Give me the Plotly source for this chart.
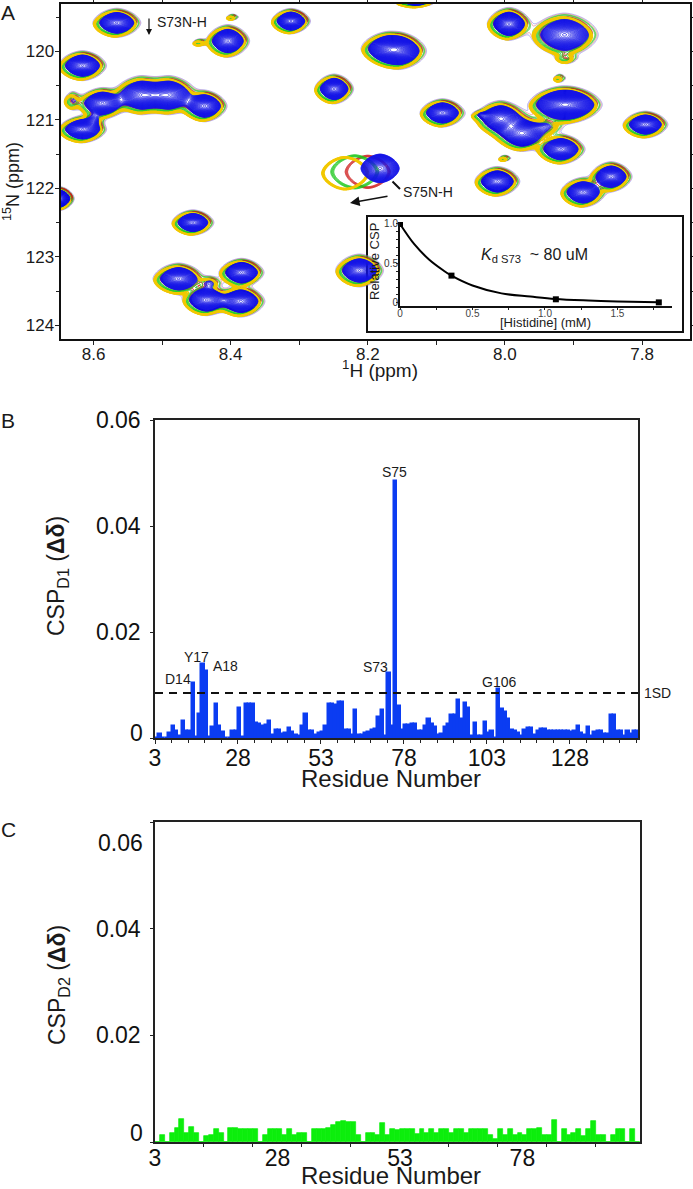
import numpy as np
import plotly.graph_objects as go

W, H = 693, 1189
def X(p): return p / W
def Y(p): return 1 - p / H

# ---- Panel A: peak table (1H ppm, 15N ppm, half width H, half width N, relative height)
peak_h  = [8.566, 8.312, 8.404, 7.994, 7.913, 8.154, 8.170, 8.616, 8.249, 8.587, 8.530, 8.490, 8.438, 8.616,
           8.091, 8.006, 7.975, 7.919, 7.905, 7.918, 7.795, 8.011, 7.845, 7.886, 8.455, 8.476, 8.384, 8.435,
           8.385, 8.212, 8.650, 8.130, 7.920, 8.397, 8.000, 7.910, 7.940, 8.630, 8.600, 8.445, 8.035, 8.430]
peak_n  = [119.585, 119.56, 119.85, 119.60, 119.76, 120.00, 119.96, 120.21, 120.55, 120.76, 120.64, 120.64, 120.80, 121.14,
           120.90, 120.98, 121.20, 120.78, 120.78, 121.43, 121.07, 121.90, 121.83, 122.06, 122.50, 123.32, 123.23, 123.63,
           123.65, 123.20, 122.15, 119.25, 120.39, 119.50, 121.56, 120.10, 121.10, 120.72, 121.00, 119.87, 120.93, 123.38]
peak_rh = [.032, .026, .029, .029, .045, .036, .036, .032, .026, .033, .038, .038, .030, .032,
           .030, .034, .036, .042, .042, .032, .030, .030, .028, .030, .028, .034, .030, .032,
           .032, .032, .020, .030, .012, .012, .012, .020, .030, .016, .016, .014, .016, .020]
peak_rn = [.195, .170, .220, .220, .290, .240, .220, .200, .200, .210, .260, .260, .210, .180,
           .190, .240, .240, .230, .230, .200, .180, .200, .200, .200, .170, .210, .190, .210,
           .210, .220, .160, .100, .080, .060, .060, .110, .150, .170, .140, .070, .080, .120]
peak_a  = [1, 1, 1, 1, 1, 1, 1, 1, 1, 1, 1, 1, 1, 1,
           1, 1, 1, 1, 1, 1, 1, 1, 1, 1, 1, 1, 1, 1,
           1, 1, 1, 1, .2, .2, .2, .2, .25, .25, .25, .2, .2, .25]

# S75 peak position and width for each titration point: blue, red, green, yellow
s75_h  = [8.182, 8.200, 8.219, 8.233]
s75_n  = [121.71, 121.76, 121.76, 121.78]
s75_rh = [.036, .038, .038, .035]
s75_rn = [.270, .280, .270, .250]

# shift of the common peaks for each titration point (ppm)
shift_h = [0.000, -0.002, 0.001, 0.003]
shift_n = [0.000, -0.015, 0.005, 0.018]

# inset
his_x = [0, 0.1, 0.2, 0.3, 0.355, 0.5, 0.7, 0.9, 1.07, 1.3, 1.5, 1.78]
his_y = [1, 0.74, 0.55, 0.41, 0.345, 0.22, 0.12, 0.08, 0.05, 0.03, 0.018, 0.006]
pts_x = [0, 0.355, 1.075, 1.785]
pts_y = [1, 0.345, 0.045, 0.006]

# ---- Panel B: CSP D1, residues 3..148
csp_d1 = [
    0,.0008,0,0,.0009,.0022,.0013,.0003,.0033,.0014,            # 3-12
    .0014,.0104,.0001,.0045,.0140,.0126,.0002,.0021,.0064,.0022, # 13-22
    .0012,0,0,.0013,.0013,.0057,.0002,.0064,.0064,.0064,        # 23-32
    .0028,.0027,.0023,.0025,.0033,.0006,.0015,.0015,.0008,.0009, # 33-42
    .0019,.0012,.0006,.0004,.0023,.0046,.0013,.0013,.0006,.0009, # 43-52
    .0011,.0023,.0064,.0064,.0062,.0067,.0068,.0016,.0016,.0006, # 53-62
    .0053,.0006,.0006,.0009,.0012,.0016,.0017,.0040,.0052,.0003, # 63-72
    .0122,.0022,.0485,.0061,.0016,.0025,.0025,.0026,.0027,.0014, # 73-82
    .0014,.0022,.0035,.0027,.0021,.0006,.0008,.0021,.0027,.0044, # 83-92
    .0044,.0072,.0035,.0066,.0057,.0003,.0028,.0004,.0004,.0030, # 93-102
    .0010,.0013,0,.0093,.0055,.0050,.0035,.0015,.0014,.0010,     # 103-112
    .0003,.0015,.0019,.0019,.0006,.0014,.0017,.0017,.0013,.0013, # 113-122
    .0013,.0014,.0014,.0014,.0013,.0012,.0014,.0023,.0010,.0005, # 123-132
    .0021,.0003,.0012,.0014,.0014,.0008,.0008,.0044,.0044,.0013, # 133-142
    .0013,.0003,.0014,.0008,.0014,.0013,                        # 143-148
]
res_d1 = list(range(3, 3 + len(csp_d1)))
sd_d1 = 0.0085
labels_d1 = ["D14", "Y17", "A18", "S73", "S75", "G106"]

# ---- Panel C: CSP D2, residues 3..101
csp_d2 = [
    0,.0014,0,.0017,.0026,.0044,.0016,.0029,.0017,0,            # 3-12
    .0011,.0014,.0025,.0017,0,.0026,.0027,.0025,.0025,.0025,    # 13-22
    .0025,0,.0014,.0025,.0025,.0025,.0014,.0025,.0014,.0016,    # 23-32
    .0016,0,.0025,.0025,.0025,.0026,.0031,.0037,.0039,.0037,    # 33-42
    .0037,.0014,0,.0016,.0017,.0014,.0036,.0014,.0025,.0023,    # 43-52
    .0025,.0025,.0025,.0015,.0024,.0016,.0024,.0016,.0024,.0024, # 53-62
    .0016,.0024,.0024,.0016,.0024,.0024,.0024,.0024,.0014,.0005, # 63-72
    .0024,.0013,.0024,.0013,.0016,.0013,.0024,.0024,.0027,.0014, # 73-82
    .0014,.0042,0,.0024,.0014,.0016,.0024,.0011,.0024,.0039,    # 83-92
    .0014,.0014,0,.0014,.0024,.0024,0,.0024,0,                  # 93-101
]
res_d2 = list(range(3, 3 + len(csp_d2)))

# ---- spectrum field
hx = np.linspace(8.648, 7.73, 620)
ny = np.linspace(119.31, 124.2, 420)
GH, GN = np.meshgrid(hx, ny)
K, P = 2.3, 1.7

def field(h, n, rh, rn, amp):
    F = np.zeros_like(GH)
    for a, b, c, d, e in zip(h, n, rh, rn, amp):
        dx, dy = np.abs(GH - a) / c, np.abs(GN - b) / d
        r2 = (dx ** P + dy ** P) ** (2 / P)
        F += e * np.exp(-K * r2)
    return (np.log(np.maximum(F, 1e-12)) / K).astype("float32")

def series(i):
    return field([v + shift_h[i] for v in peak_h] + [s75_h[i]],
                 [v + shift_n[i] for v in peak_n] + [s75_n[i]],
                 peak_rh + [s75_rh[i]], peak_rn + [s75_rn[i]], peak_a + [1])

Zb, Zr, Zg, Zy = series(0), series(1), series(2), series(3)
Zo = field(peak_h, peak_n, peak_rh, peak_rn, peak_a)  # common peaks only: faint outer lines

fig = go.Figure()

def contour(z, color, lw, r2lo, r2hi, step):
    fig.add_trace(go.Contour(x=hx, y=ny, z=z, xaxis="x", yaxis="y", showscale=False, hoverinfo="skip",
                             autocontour=False,
                             contours=dict(coloring="none", start=-r2hi, end=-r2lo, size=step, showlabels=False),
                             line=dict(color=color, width=lw, smoothing=0)))

contour(Zo, "#6a6ae6", 0.5, 1.14, 1.20, 0.12)
contour(Zo, "#e05a5a", 0.5, 1.06, 1.12, 0.12)
contour(Zo, "#2fc02f", 0.7, 0.94, 1.04, 0.04)
contour(Zr, "#d01818", 1.0, 0.60, 0.75, 0.05)
contour(Zg, "#1ecb1e", 1.0, 0.65, 0.85, 0.05)
contour(Zy, "#f2c800", 1.3, 0.75, 0.95, 0.03)
contour(Zb, "#1414e6", 0.8, -0.70, 0.60, 0.0175)

# ---- inset
fig.add_trace(go.Scatter(x=his_x, y=his_y, xaxis="x4", yaxis="y4", mode="lines",
                         line=dict(color="black", width=2, shape="spline"), hoverinfo="skip"))
fig.add_trace(go.Scatter(x=pts_x, y=pts_y, xaxis="x4", yaxis="y4", mode="markers",
                         marker=dict(color="black", symbol="square", size=6), hoverinfo="skip"))

# ---- bars
BLUE, GREEN = "#0b3cf2", "#0cee0c"
fig.add_trace(go.Bar(x=res_d1, y=csp_d1, width=1, offset=0, marker=dict(color=BLUE, line=dict(color=BLUE, width=1.5)),
                     xaxis="x2", yaxis="y2", hoverinfo="skip"))
fig.add_trace(go.Scatter(x=[3, 148.5], y=[sd_d1, sd_d1], mode="lines", xaxis="x2", yaxis="y2",
                         line=dict(color="#111", width=2, dash="8px,6px"), hoverinfo="skip"))
fig.add_trace(go.Bar(x=res_d2, y=csp_d2, width=1, offset=0, marker=dict(color=GREEN, line=dict(color=GREEN, width=0.7)),
                     xaxis="x3", yaxis="y3", hoverinfo="skip"))

FONT = "Liberation Sans"
INK = "#1a1a1a"
axA = dict(showgrid=False, zeroline=False, showline=True, linecolor="#111", linewidth=2, mirror="allticks",
           ticks="outside", ticklen=4, tickwidth=1, tickcolor="#222", tickfont=dict(size=17, color=INK))
axBar = dict(showgrid=False, zeroline=False, showline=True, linecolor="#222", linewidth=1.5, mirror=True,
             ticks="outside", tickwidth=1, tickcolor="#222", tickfont=dict(size=23, color="#111"))

layout = dict(
    width=W, height=H, margin=dict(l=0, r=0, t=0, b=0, autoexpand=False), autosize=False,
    paper_bgcolor="white", plot_bgcolor="white", showlegend=False, hovermode=False,
    font=dict(family=FONT, color=INK), bargap=0, barmode="overlay",
    xaxis=dict(axA, domain=[X(60.6), X(690)], range=[8.648, 7.73], dtick=0.2, tick0=8.6, tickformat=".1f",
               ticklabelstandoff=-5,
               minor=dict(dtick=0.1, tick0=8.6, ticks="outside", ticklen=4, tickcolor="#222"), anchor="y"),
    yaxis=dict(axA, domain=[Y(339), Y(4)], range=[124.2, 119.31], dtick=1, tick0=120, ticklabelstandoff=-3,
               minor=dict(dtick=0.5, tick0=120, ticks="outside", ticklen=3, tickcolor="#222"), anchor="x"),
    xaxis2=dict(axBar, domain=[X(155), X(638)], range=[3, 148.5], tick0=3, dtick=25, ticklen=4,
                ticklabelstandoff=-5,
                minor=dict(tick0=3, dtick=5, ticks="outside", ticklen=3, tickcolor="#222"), anchor="y2"),
    yaxis2=dict(axBar, domain=[Y(738), Y(420)], range=[0, 0.06], tickvals=[0, 0.02, 0.04, 0.06],
                ticktext=["", "0.02", "0.04", "0.06"], ticklen=3, ticklabelstandoff=5, anchor="x2"),
    xaxis3=dict(axBar, domain=[X(155), X(640)], range=[3, 102], tick0=3, dtick=25, ticklen=0,
                ticklabelstandoff=-5,
                minor=dict(tick0=3, dtick=10, ticks="outside", ticklen=3, tickcolor="#222"), anchor="y3"),
    yaxis3=dict(axBar, domain=[Y(1142), Y(822)], range=[0, 0.06], tickvals=[0, 0.02, 0.04, 0.06],
                ticktext=["", "0.02", "0.04", ""], ticklen=3, ticklabelstandoff=5, anchor="x3"),
    xaxis4=dict(domain=[X(400), X(672)], range=[0, 1.876], showgrid=False, zeroline=False, showline=True,
                linecolor="#111", linewidth=2, ticks="outside", ticklen=2, tickcolor="#222",
                tickvals=[0, 0.5, 1.0, 1.5], ticktext=["0", "0.5", "1.0", "1.5"],
                tickfont=dict(size=10, color="#444"), ticklabelstandoff=-5,
                minor=dict(dtick=0.25, tick0=0, ticks="outside", ticklen=2, tickcolor="#222"), anchor="y4"),
    yaxis4=dict(domain=[Y(306), Y(222)], range=[-0.04, 1.025], showgrid=False, zeroline=False, showline=True,
                linecolor="#111", linewidth=2, ticks="outside", ticklen=2, tickcolor="#222",
                tickvals=[0, 0.5, 1.0], ticktext=["0", "0.5", "1.0"], tickfont=dict(size=10, color="#333"),
                ticklabelstandoff=-4,
                minor=dict(dtick=0.1, tick0=0, ticks="outside", ticklen=2, tickcolor="#222"), anchor="x4"),
)

# white inset card, drawn in the inset subplot so that it lies over the spectrum
x4w, y4h = 672 - 400, 306 - 222
layout["shapes"] = [dict(type="rect", layer="below", xref="x4 domain", yref="y4 domain",
                         x0=(367 - 400) / x4w, x1=(683 - 400) / x4w,
                         y0=(306 - 332) / y4h, y1=(306 - 216) / y4h,
                         fillcolor="white", line=dict(color="#111", width=2))]

def text(s, x, y, size, angle=0, xa="center", color=INK):
    return dict(text=s, x=X(x), y=Y(y), xref="paper", yref="paper", xanchor=xa, yanchor="middle",
                showarrow=False, textangle=angle, font=dict(size=size, color=color, family=FONT))

def arrow(x0, y0, x1, y1, head=2, w=1.5, size=1.0):
    return dict(text="", x=X(x1), y=Y(y1), xref="paper", yref="paper", ax=x0 - x1, ay=y0 - y1,
                axref="pixel", ayref="pixel", showarrow=True, arrowhead=head, arrowwidth=w,
                arrowsize=size, arrowcolor="#111", standoff=0, startstandoff=0)

ann = [
    text("A", 8, 12, 21), text("B", 8, 421, 21), text("C", 8, 829, 21),
    text("<sup>1</sup>H (ppm)", 380, 369, 19),
    text("<sup>15</sup>N (ppm)", 11, 182, 18, angle=-90),
    text("S73N-H", 155, 22, 14, xa="left"),
    text("S75N-H", 401, 192, 14, xa="left"),
    arrow(149, 17, 149, 35, head=2, w=1.2),
    arrow(391, 180, 400, 189, head=0, w=2),
    arrow(389, 196, 350, 203, head=2, w=1.6, size=1.2),
    text("Relative CSP", 375, 262, 13, angle=-90),
    text("[Histidine] (mM)", 545, 323, 13),
    text("<i>K</i><sub>d S73</sub>  ~ 80 uM", 534, 255, 16),
    text("CSP<sub>D1</sub> (<b>Δδ</b>)", 57, 576, 23, angle=-90),
    text("CSP<sub>D2</sub> (<b>Δδ</b>)", 58, 985, 23, angle=-90),
    text("Residue Number", 391, 778, 24),
    text("Residue Number", 391, 1175, 24),
    text("0", 145, 733, 23, xa="right", color="#111"),
    text("0", 145, 1133, 23, xa="right", color="#111"),
    text("0.06", 145, 843, 23, xa="right", color="#111"),
    text("1SD", 642, 693, 14, xa="left"),
]
label_pos = [(178, 679), (196, 657), (225, 666), (375, 667), (394, 472), (499, 682)]
ann += [text(s, px, py, 14) for s, (px, py) in zip(labels_d1, label_pos)]
layout["annotations"] = ann

fig.update_layout(**layout)
fig.write_html("out.html", config=dict(displayModeBar=False),
               post_script="document.body.style.margin='0';")
